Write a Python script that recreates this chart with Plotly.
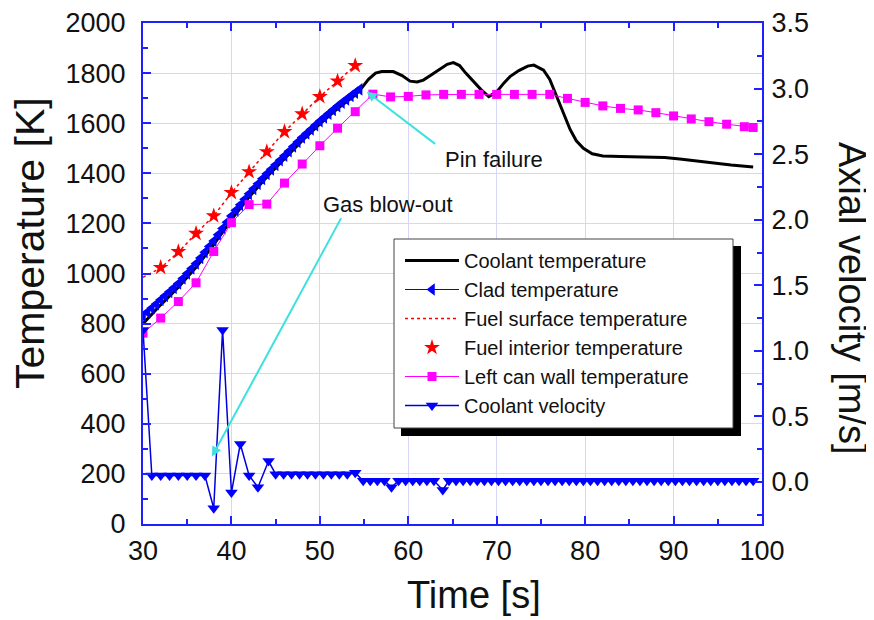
import plotly.graph_objects as go

# ---------------- data ----------------
clad_t = [30.0, 30.5, 31.0, 31.5, 32.0, 32.5, 33.0, 33.5, 34.0, 34.5, 35.0, 35.5, 36.0, 36.5,
          37.0, 37.5, 38.0, 38.5, 39.0, 39.5, 40.0, 40.5, 41.0, 41.5, 42.0, 42.5, 43.0, 43.5,
          44.0, 44.5, 45.0, 45.5, 46.0, 46.5, 47.0, 47.5, 48.0, 48.5, 49.0, 49.5, 50.0, 50.5,
          51.0, 51.5, 52.0, 52.5, 53.0, 53.5, 54.0, 54.5]
clad_T = [830, 846, 862, 878, 895, 911, 927, 943, 960, 980, 1000, 1020, 1040, 1062,
          1085, 1108, 1130, 1155, 1180, 1205, 1230, 1252, 1274, 1296, 1318, 1338, 1358, 1378,
          1398, 1416, 1434, 1452, 1470, 1488, 1507, 1525, 1543, 1559, 1575, 1592, 1608, 1623,
          1638, 1653, 1668, 1682, 1695, 1709, 1722, 1735]

coolant_t = [30, 32, 34, 36, 38, 40, 42, 44, 46, 48, 50, 52, 54, 54.7, 55.5, 56.3, 57.0, 58.3,
             59.3, 60.2, 61.0, 61.7, 62.5, 63.5, 64.4, 65.1, 65.8, 66.5, 67.2, 68.2, 69.1, 70.0,
             70.8, 71.5, 72.5, 73.5, 74.2, 75.3, 76.0, 76.8, 77.5, 78.3, 79.0, 79.8, 80.8, 82.0,
             84.0, 87.0, 89.0, 90.7, 92.5, 94.5, 96.5, 99.0]
coolant_T = [800, 875, 945, 1025, 1115, 1215, 1305, 1385, 1458, 1530, 1597, 1658, 1712, 1739,
             1775, 1800, 1806, 1806, 1790, 1768, 1765, 1772, 1790, 1815, 1835, 1842, 1830, 1800,
             1772, 1735, 1706, 1725, 1760, 1786, 1810, 1828, 1832, 1812, 1775, 1705, 1640, 1575,
             1530, 1500, 1478, 1469, 1467, 1466, 1463, 1457, 1449, 1441, 1433, 1425]

fuel_surf_t = [30, 32, 34, 36, 38, 40, 42, 44, 46, 48, 50, 52, 54]
fuel_surf_T = [985, 1022, 1085, 1160, 1230, 1322, 1405, 1486, 1566, 1636, 1706, 1768, 1830]

fuel_int_t = [32, 34, 36, 38, 40, 42, 44, 46, 48, 50, 52, 54]
fuel_int_T = [1024, 1087, 1160, 1230, 1323, 1406, 1486, 1566, 1637, 1706, 1768, 1830]

can_t = [30, 32, 34, 36, 38, 40, 42, 44, 46, 48, 50, 52, 54, 56, 58, 60, 62, 64, 66, 68, 70,
         72, 74, 76, 78, 80, 82, 84, 86, 88, 90, 92, 94, 96, 98, 99]
can_T = [762, 822, 888, 963, 1088, 1203, 1275, 1277, 1361, 1437, 1510, 1580, 1646, 1716, 1705,
         1707, 1713, 1715, 1715, 1715, 1715, 1715, 1715, 1715, 1699, 1683, 1669, 1659, 1653,
         1642, 1629, 1617, 1606, 1596, 1586, 1583]

vel_t = [30.0, 31.0, 32.0, 33.0, 34.0, 35.0, 36.0, 37.0, 38.0, 39.0, 40.0, 41.0, 42.0, 43.0,
         44.2, 45.0, 45.9, 46.8, 47.7, 48.6, 49.5, 50.4, 51.3, 52.2, 53.1, 54.0, 54.9, 55.7,
         56.5, 57.3, 58.1, 58.9, 59.7, 60.5, 61.3, 62.1, 62.9, 63.9, 64.6, 65.4, 66.2, 67.0,
         67.8, 68.6, 69.4, 70.2, 71.0, 71.8, 72.6, 73.4, 74.2, 75.0, 75.8, 76.6, 77.4, 78.2,
         79.0, 79.8, 80.6, 81.4, 82.2, 83.0, 83.8, 84.6, 85.4, 86.2, 87.0, 87.8, 88.6, 89.4,
         90.2, 91.0, 91.8, 92.6, 93.4, 94.2, 95.0, 95.8, 96.6, 97.4, 98.2, 99.0]
vel_v = [1.16, 0.05, 0.05, 0.05, 0.05, 0.05, 0.05, 0.05, -0.20, 1.16, -0.08, 0.29, 0.05, -0.04,
         0.16, 0.06, 0.06, 0.06, 0.06, 0.06, 0.06, 0.06, 0.06, 0.06, 0.06, 0.07, 0.01, 0.01,
         0.01, 0.01, -0.04, 0.01, 0.01, 0.01, 0.01, 0.01, 0.01, -0.06, 0.01, 0.01, 0.01, 0.01,
         0.01, 0.01, 0.01, 0.01, 0.01, 0.01, 0.01, 0.01, 0.01, 0.01, 0.01, 0.01, 0.01, 0.01,
         0.01, 0.01, 0.01, 0.01, 0.01, 0.01, 0.01, 0.01, 0.01, 0.01, 0.01, 0.01, 0.01, 0.01,
         0.01, 0.01, 0.01, 0.01, 0.01, 0.01, 0.01, 0.01, 0.01, 0.01, 0.01, 0.01]

x_ticks = [30, 40, 50, 60, 70, 80, 90, 100]
y_ticks = [0, 200, 400, 600, 800, 1000, 1200, 1400, 1600, 1800, 2000]
y2_ticks = [0.0, 0.5, 1.0, 1.5, 2.0, 2.5, 3.0, 3.5]

# ---------------- styling / geometry ----------------
FONT = "Liberation Sans, Arial, sans-serif"
AXBLUE = "#1f1fff"
GRID = "#d6d6f6"
CYAN = "#40e0e0"
TXT = "#111111"

W, H = 874, 620
OFF = 8  # default page body margin
# plot area in page pixels
PL, PR, PT, PB = 143, 762, 23, 524
ML, MT = PL - OFF, PT - OFF
MR, MB = W - (PR - OFF), H - (PB - OFF)
PW, PH = PR - PL, PB - PT


def px(xp):
    return (xp - PL) / PW


def py(yp):
    return (PB - yp) / PH


fig = go.Figure()

fig.add_trace(go.Scatter(x=coolant_t, y=coolant_T, name="Coolant temperature", mode="lines",
                         line=dict(color="black", width=3)))
fig.add_trace(go.Scatter(x=clad_t, y=clad_T, name="Clad temperature", mode="lines+markers",
                         line=dict(color="#0000ff", width=1.2),
                         marker=dict(symbol="triangle-left", size=11, color="#0000ff")))
fig.add_trace(go.Scatter(x=fuel_surf_t, y=fuel_surf_T, name="Fuel surface temperature",
                         mode="lines", line=dict(color="#ff0000", width=1.5, dash="dot")))
fig.add_trace(go.Scatter(x=fuel_int_t, y=fuel_int_T, name="Fuel interior temperature",
                         mode="markers", marker=dict(symbol="star", size=12, color="#ff0000")))
fig.add_trace(go.Scatter(x=can_t, y=can_T, name="Left can wall temperature", mode="lines+markers",
                         line=dict(color="#ff00ff", width=1),
                         marker=dict(symbol="square", size=9, color="#ff00ff")))
fig.add_trace(go.Scatter(x=vel_t, y=vel_v, name="Coolant velocity", mode="lines+markers",
                         yaxis="y2", line=dict(color="#0000dd", width=1.5),
                         marker=dict(symbol="triangle-down", size=11, color="#0000ff")))

axis_common = dict(
    ticks="inside", ticklen=8, tickwidth=2, tickcolor=AXBLUE,
    showline=True, linecolor=AXBLUE, linewidth=2, zeroline=False,
    tickfont=dict(family=FONT, size=27, color=TXT),
)

fig.update_layout(
    width=W, height=H,
    margin=dict(l=ML, r=MR, t=MT, b=MB, autoexpand=False),
    paper_bgcolor="white", plot_bgcolor="white",
    font=dict(family=FONT, color=TXT),
    xaxis=dict(range=[30, 100], tickmode="array", tickvals=x_ticks,
               mirror="ticks", showgrid=True, gridcolor=GRID, gridwidth=1,
               ticklabelstandoff=2,
               minor=dict(ticks="inside", ticklen=5, tickwidth=2, tickcolor=AXBLUE,
                          dtick=5, tick0=0, showgrid=False),
               **axis_common),
    yaxis=dict(range=[0, 2000], tickmode="array", tickvals=y_ticks,
               showgrid=True, gridcolor=GRID, gridwidth=1, ticklabelstandoff=10,
               minor=dict(ticks="inside", ticklen=5, tickwidth=2, tickcolor=AXBLUE,
                          dtick=100, tick0=0, showgrid=False),
               **axis_common),
    yaxis2=dict(range=[-0.32, 3.5], overlaying="y", side="right", tickmode="array",
                tickvals=y2_ticks, tickformat=".1f", showgrid=False, ticklabelstandoff=2,
                minor=dict(ticks="inside", ticklen=5, tickwidth=2, tickcolor=AXBLUE,
                           dtick=0.25, tick0=0, showgrid=False),
                **axis_common),
    showlegend=True,
    legend=dict(x=px(400), y=py(241), xanchor="left", yanchor="top",
                bgcolor="rgba(0,0,0,0)", borderwidth=0,
                font=dict(family=FONT, size=20, color=TXT),
                itemwidth=54, traceorder="normal"),
)

# legend frame with drop shadow
fig.add_shape(type="rect", xref="paper", yref="paper",
              x0=px(401), x1=px(741), y0=py(436), y1=py(246),
              fillcolor="black", line=dict(width=0), layer="above")
fig.add_shape(type="rect", xref="paper", yref="paper",
              x0=px(394), x1=px(733), y0=py(428), y1=py(239),
              fillcolor="white", line=dict(width=1, color="#444444"), layer="above")

# arrows
fig.add_annotation(x=55.3, y=1726, ax=63.2, ay=1513, xref="x", yref="y", axref="x", ayref="y",
                   text="", showarrow=True, arrowhead=2, arrowsize=1, arrowwidth=2,
                   arrowcolor=CYAN)
fig.add_annotation(x=37.8, y=269, ax=52.5, ay=1227, xref="x", yref="y", axref="x", ayref="y",
                   text="", showarrow=True, arrowhead=2, arrowsize=1, arrowwidth=2,
                   arrowcolor=CYAN)
fig.add_annotation(x=69.7, y=1457, xref="x", yref="y", text="Pin failure", showarrow=False,
                   xanchor="center", yanchor="middle",
                   font=dict(family=FONT, size=22, color=TXT))
fig.add_annotation(x=57.7, y=1277, xref="x", yref="y", text="Gas blow-out", showarrow=False,
                   xanchor="center", yanchor="middle",
                   font=dict(family=FONT, size=22, color=TXT))

# axis titles
fig.add_annotation(x=px(30), y=py(243), xref="paper", yref="paper", text="Temperature [K]",
                   textangle=-90, showarrow=False, xanchor="center", yanchor="middle",
                   font=dict(family=FONT, size=41, color=TXT))
fig.add_annotation(x=px(474), y=py(595), xref="paper", yref="paper", text="Time [s]",
                   showarrow=False, xanchor="center", yanchor="middle",
                   font=dict(family=FONT, size=38, color=TXT))
fig.add_annotation(x=px(852), y=py(298), xref="paper", yref="paper", text="Axial velocity [m/s]",
                   textangle=90, showarrow=False, xanchor="center", yanchor="middle",
                   font=dict(family=FONT, size=38, color=TXT))

fig.write_html("out.html")
